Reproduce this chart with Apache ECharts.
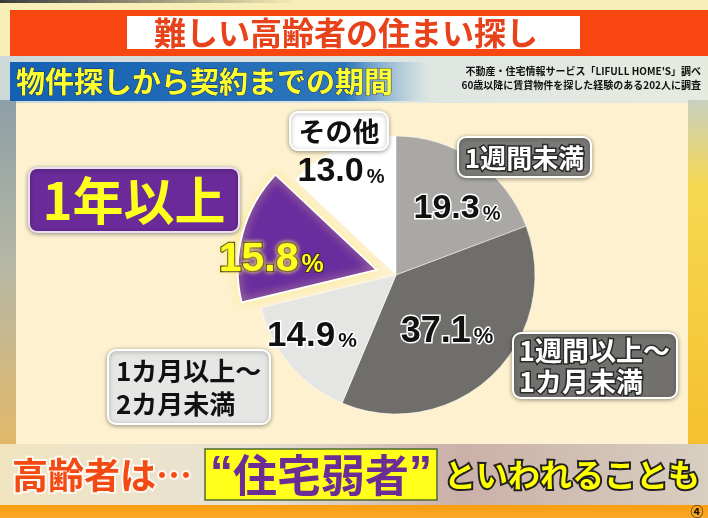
<!DOCTYPE html>
<html><head><meta charset="utf-8">
<script src="https://cdn.jsdelivr.net/npm/echarts@6/dist/echarts.min.js"></script>
<style>html,body{margin:0;padding:0;background:#f3eccb}#c{width:708px;height:518px}</style>
</head><body><div id="c"></div>
<script>
// ---- data ----
const titleText = '難しい高齢者の住まい探し';
const subtitleText = '物件探しから契約までの期間';
const sourceLines = ['不動産・住宅情報サービス「LIFULL HOME\'S」調べ', '60歳以降に賃貸物件を探した経験のある202人に調査'];
const categories = ['1週間未満', '1週間以上～\n1カ月未満', '1カ月以上～\n2カ月未満', '1年以上', 'その他'];
const values = [19.3, 37.1, 14.9, 15.8, 13.0];
const highlightIndex = 3;
const captionLead = '高齢者は…';
const captionKey = '住宅弱者';
const captionTail = 'といわれることも';
const pageMark = '④';

// ---- styles / layout ----
const JP = '"Noto Sans CJK JP"';
const NUM = '"Liberation Sans"';
const QUOTE = '"Liberation Sans"';
const sliceColors = ['#a9a8a4', '#6f6e6a', '#e5e5e3', '#6a2d9e', '#ffffff'];
const pctPos = [[457, 207], [447, 330], [312, 334], [272, 257], [341, 170]];
const highlightLabelOffset = [-36, 19];
const pctSize = [34, 36, 35, 41, 34];
const pctFill = ['#111', '#111', '#111', '#ffff1e', '#111'];
const pctBorder = ['#fff', '#fff', '#fff', '#3a2c10', 'transparent'];
const nameBoxes = [
  {x: 458, y: 137, w: 133, h: 40, fill: '#7a7975', color: '#fff', stroke: '#2a2a2a', size: 26, lh: 30, align: 'center'},
  {x: 513, y: 333, w: 164, h: 65, fill: '#72716d', color: '#fff', stroke: '#2a2a2a', size: 27, lh: 31, align: 'left', tx: 519},
  {x: 108, y: 350, w: 162, h: 74, fill: '#e6e6e4', color: '#111', stroke: null, size: 26, lh: 33, align: 'left', tx: 116},
  {x: 29, y: 168, w: 210, h: 64, fill: '#6a2a9a', color: '#ffff1e', stroke: null, size: 51, lh: 56, align: 'center'},
  {x: 290, y: 112, w: 98, h: 38, fill: '#ffffff', color: '#111', stroke: null, size: 27, lh: 30, align: 'center'}
];

function T(x, y, text, font, fill, extra) {
  return {type: 'text', x: x, y: y, z: 50, silent: true,
    style: Object.assign({text: text, font: font, fill: fill, align: 'center', verticalAlign: 'middle',
      textAlign: 'center', textVerticalAlign: 'middle'}, extra || {})};
}
function R(x, y, w, h, fill, extra, z) {
  return Object.assign({type: 'rect', z: z == null ? -10 : z, silent: true, shape: {x: x, y: y, width: w, height: h}, style: {fill: fill}}, extra || {});
}

const g = [];
// background
g.push(R(0, 0, 708, 518, {type: 'linear', x: 0, y: 0, x2: 0, y2: 1, colorStops: [{offset: 0, color: '#f8efb8'}, {offset: 1, color: '#efe3b8'}]}, null, -30));
g.push(R(0, 0, 300, 3, {type: 'linear', x: 0, y: 0, x2: 1, y2: 0, colorStops: [{offset: 0, color: '#3a3a3a'}, {offset: 1, color: 'rgba(60,60,60,0)'}]}, null, -29));
g.push(R(0, 56, 708, 48, {type: 'linear', x: 0, y: 0, x2: 1, y2: 0, colorStops: [{offset: 0, color: '#cfd8d8'}, {offset: 0.6, color: '#dfe6e2'}, {offset: 1, color: '#e6ebe0'}]}, null, -29));
g.push(R(0, 100, 16, 345, {type: 'linear', x: 0, y: 0, x2: 0, y2: 1, colorStops: [{offset: 0, color: '#8d9fa6'}, {offset: 0.5, color: '#b8b8a4'}, {offset: 1, color: '#e2b868'}]}, null, -29));
g.push(R(688, 100, 20, 345, {type: 'linear', x: 0, y: 0, x2: 0, y2: 1, colorStops: [{offset: 0, color: '#c8d0c0'}, {offset: 0.25, color: '#f6d850'}, {offset: 1, color: '#f4c030'}]}, null, -29));
g.push(R(0, 444, 708, 62, {type: 'linear', x: 0, y: 0, x2: 1, y2: 0, colorStops: [{offset: 0, color: '#f0e4c0'}, {offset: 0.35, color: '#e8e2d4'}, {offset: 0.65, color: '#cbb0a8'}, {offset: 1, color: '#d8cfc0'}]}, null, -29));
g.push(R(0, 505, 708, 13, {type: 'linear', x: 0, y: 0, x2: 0, y2: 1, colorStops: [{offset: 0, color: '#fb9e10'}, {offset: 1, color: '#f9a828'}]}, null, -28));
// main panel
g.push(R(16, 103, 672, 341, '#fdf1d0', null, -20));
// title banner
g.push(R(10, 10, 698, 46, '#f7460f', null, -5));
g.push(R(127, 16, 453, 33, '#ffffff', null, -4));
g.push(T(346, 33, titleText, 'bold 32px ' + JP, '#e8421a'));
// subtitle bar
g.push(R(10, 62, 420, 39, {type: 'linear', x: 0, y: 0, x2: 1, y2: 0, colorStops: [{offset: 0, color: '#1460b2'}, {offset: 0.8, color: '#2d76bc'}, {offset: 1, color: 'rgba(120,170,210,0)'}]}, null, -5));
g.push(T(16, 82, subtitleText, 'bold 29px ' + JP, '#ffff30', {align: 'left', textAlign: 'left', stroke: '#143058', lineWidth: 1}));
g.push(T(701, 71, sourceLines[0], 'bold 10px ' + JP, '#111', {align: 'right', textAlign: 'right'}));
g.push(T(701, 85, sourceLines[1], 'bold 10px ' + JP, '#111', {align: 'right', textAlign: 'right'}));
// name boxes
nameBoxes.forEach(function (b, i) {
  g.push(R(b.x, b.y, b.w, b.h, b.fill, {style: {fill: b.fill, stroke: i === 3 ? '#e8e0f0' : '#ffffff', lineWidth: 2, shadowBlur: 4, shadowColor: 'rgba(0,0,0,0.35)', shadowOffsetY: 1}, shape: {x: b.x, y: b.y, width: b.w, height: b.h, r: 8}}, 40));
  const ex = {lineHeight: b.lh};
  if (b.stroke) { ex.stroke = b.stroke; ex.lineWidth = 3; }
  if (b.align === 'left') { ex.align = 'left'; ex.textAlign = 'left'; }
  g.push(T(b.align === 'left' ? b.tx : b.x + b.w / 2, b.y + b.h / 2 + 1, categories[i], 'bold ' + b.size + 'px ' + JP, b.color, ex));
});
// caption
g.push(T(102, 475, captionLead, 'bold 36px ' + JP, '#f24a12', {stroke: '#fff8f0', lineWidth: 4}));
g.push(R(205, 449, 232, 51, '#ffff1a', {style: {fill: '#ffff1a', stroke: '#4d6b30', lineWidth: 1.5}}, 30));
g.push({type: 'text', x: 321, y: 475, z: 50, silent: true, style: {
  text: '{q|“}{m|' + captionKey + '}{q|”}', align: 'center', verticalAlign: 'middle', textAlign: 'center', textVerticalAlign: 'middle',
  rich: {q: {font: 'bold 46px ' + QUOTE, fill: '#6b2c96'}, m: {font: 'bold 44px ' + JP, fill: '#6b2c96'}}}});
g.push(T(572, 475, captionTail, 'bold 32px ' + JP, '#ffff00', {stroke: '#222', lineWidth: 4}));
g.push(T(697, 511, pageMark, 'bold 13px ' + JP, '#111'));

const chart = echarts.init(document.getElementById('c'), null, {renderer: 'canvas'});
chart.setOption({
  animation: false,
  graphic: {elements: g},
  series: [{
    type: 'pie', center: [396, 275], radius: 139, startAngle: 90, clockwise: true,
    selectedMode: 'single', selectedOffset: 20, avoidLabelOverlap: false,
    emphasis: {disabled: true}, silent: true, z: 10,
    labelLine: {show: false},
    labelLayout: function (p) {
      if (p.dataIndex === highlightIndex) return {};
      return {x: pctPos[p.dataIndex][0], y: pctPos[p.dataIndex][1], align: 'center', verticalAlign: 'middle', hideOverlap: false, moveOverlap: false};
    },
    data: values.map(function (v, i) {
      const hi = i === highlightIndex;
      const lbl = {
        show: true, position: 'inside',
        formatter: function (p) { return '{v|' + p.value.toFixed(1) + '}{p|%}'; },
        rich: {
          v: {fontFamily: NUM, fontWeight: 'bold', fontSize: pctSize[i], color: pctFill[i], textBorderColor: pctBorder[i], textBorderWidth: hi ? 2.5 : 3, textShadowColor: hi ? 'rgba(255,240,120,0.9)' : 'transparent', textShadowBlur: hi ? 4 : 0, lineHeight: pctSize[i] + 4, verticalAlign: 'bottom'},
          p: {fontFamily: NUM, fontWeight: 'bold', fontSize: Math.round(pctSize[i] * 0.6), color: pctFill[i], textBorderColor: pctBorder[i], textBorderWidth: hi ? 2 : 3, lineHeight: pctSize[i] + 4, verticalAlign: 'bottom', padding: [0, 0, 2, 3]}
        }
      };
      if (hi) lbl.offset = highlightLabelOffset;
      return {
        value: v, name: categories[i], selected: hi,
        itemStyle: hi ? {color: sliceColors[i], borderColor: '#ffffff', borderWidth: 2, shadowBlur: 10, shadowColor: 'rgba(255,236,140,1)'}
                      : {color: sliceColors[i], borderColor: 'rgba(255,255,255,0.55)', borderWidth: i === 4 ? 0 : 1},
        label: lbl,
        select: {label: lbl}
      };
    })
  }]
});
</script></body></html>
